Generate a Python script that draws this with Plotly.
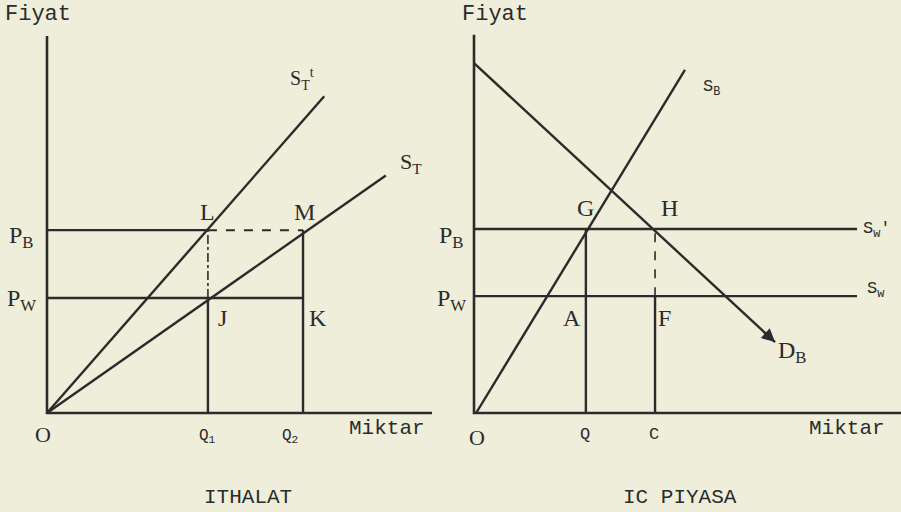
import plotly.graph_objects as go

# ── data (diagram units: 0-100 on each axis) ──────────────────────────────
# left panel: ITHALAT
PB_L, PW_L = 48.5, 30.5
Q1, Q2 = 41.8, 66.5
ST_T_X, ST_T_Y = [0, 72], [0, 84]      # S_T^t
ST_X, ST_Y = [0, 88], [0, 63]          # S_T
AXIS_L = (100, 100)                    # length of x / y axis

# right panel: IC PIYASA
PB_R, PW_R = 48.8, 31.0
Q, C = 26.2, 42.4
SW_END = 89.7
SB_X, SB_Y = [0.5, 49.4], [0, 91.0]    # S_B
DB_X, DB_Y = [0, 70.5], [92.8, 18.8]   # D_B
AXIS_R = (100, 100.3)

INK = '#2b2b2b'
BG = '#efeedb'
MONO = 'Liberation Mono'
HAND = 'Liberation Serif'

fig = go.Figure()


def seg(xs, ys, ax='', dash='solid', w=2.4):
    fig.add_trace(go.Scatter(x=xs, y=ys, mode='lines', xaxis='x' + ax, yaxis='y' + ax,
                             line=dict(color=INK, width=w, dash=dash),
                             hoverinfo='skip', showlegend=False))


# left panel
seg([0, 0, AXIS_L[0]], [AXIS_L[1], 0, 0], w=2.6)
seg(ST_T_X, ST_T_Y)
seg(ST_X, ST_Y)
seg([0, Q1], [PB_L, PB_L])
seg([Q1, Q2], [PB_L, PB_L], dash='dash', w=2)
seg([0, Q2], [PW_L, PW_L])
seg([Q1, Q1], [0, PW_L])
seg([Q1, Q1], [PW_L, PB_L], dash='dashdot', w=1.6)
seg([Q2, Q2], [0, PB_L])

# right panel
seg([0, 0, AXIS_R[0]], [AXIS_R[1], 0, 0], '2', w=2.6)
seg(SB_X, SB_Y, '2')
seg(DB_X, DB_Y, '2')
seg([0, SW_END], [PB_R, PB_R], '2')
seg([0, SW_END], [PW_R, PW_R], '2')
seg([Q, Q], [0, PB_R], '2')
seg([C, C], [0, PW_R], '2')
seg([C, C], [PW_R, PB_R], '2', dash='dash', w=1.6)

# arrow head on D_B
fig.add_annotation(x=DB_X[1], y=DB_Y[1], ax=DB_X[1] - 3, ay=DB_Y[1] + 3.1,
                   xref='x2', yref='y2', axref='x2', ayref='y2', text='',
                   showarrow=True, arrowhead=2, arrowsize=1.2, arrowwidth=2.2,
                   arrowcolor=INK)


def lab(x, y, text, ax='', size=24, font=HAND):
    fig.add_annotation(x=x, y=y, xref='x' + ax, yref='y' + ax, text=text,
                       showarrow=False, font=dict(family=font, size=size, color=INK))


# left labels
lab(66.2, 88.5, 'S<sub>T</sub><sup>t</sup>', size=20)
lab(94.5, 66.3, 'S<sub>T</sub>', size=22)
lab(41.6, 53.3, 'L')
lab(67.0, 53.3, 'M')
lab(-6.5, 46.7, 'P<sub>B</sub>')
lab(-6.5, 30.0, 'P<sub>W</sub>')
lab(45.5, 25.2, 'J')
lab(70.4, 25.2, 'K')
lab(-1.0, -5.6, 'O', size=22)
lab(41.8, -6.1, 'Q<sub>1</sub>', size=16, font=MONO)
lab(63.1, -6.1, 'Q<sub>2</sub>', size=16, font=MONO)
lab(88.3, -4.0, 'Miktar', size=21, font=MONO)
lab(52.2, -22.5, 'ITHALAT', size=21, font=MONO)
lab(-2.3, 105.8, 'Fiyat', size=22, font=MONO)

# right labels
lab(55.7, 86.2, 'S<sub>B</sub>', '2', size=17, font=MONO)
lab(26.0, 54.4, 'G', '2')
lab(45.7, 54.4, 'H', '2')
lab(94.4, 48.5, "S<sub>w</sub>'", '2', size=17, font=MONO)
lab(-5.2, 46.7, 'P<sub>B</sub>', '2')
lab(-5.2, 30.0, 'P<sub>W</sub>', '2')
lab(94.1, 32.6, 'S<sub>w</sub>', '2', size=17, font=MONO)
lab(23.0, 25.2, 'A', '2')
lab(44.5, 25.2, 'F', '2')
lab(74.7, 16.2, 'D<sub>B</sub>', '2')
lab(0.7, -6.4, 'O', '2', size=22)
lab(26.0, -5.8, 'Q', '2', size=17, font=MONO)
lab(42.2, -5.8, 'C', '2', size=17, font=MONO)
lab(87.4, -4.0, 'Miktar', '2', size=21, font=MONO)
lab(48.2, -22.5, 'IC PIYASA', '2', size=21, font=MONO)
lab(5.0, 105.8, 'Fiyat', '2', size=22, font=MONO)

# axes span the whole page so labels outside the diagram stay visible
hidden = dict(visible=False, showgrid=False, zeroline=False)
PXX_L, PXX_R, PXY = 3.85, 4.27, 3.77   # pixels per unit
fig.update_layout(
    width=901, height=512, margin=dict(l=0, r=0, t=0, b=0),
    paper_bgcolor=BG, plot_bgcolor=BG,
    xaxis=dict(hidden, domain=[0, 450 / 901], anchor='y',
               range=[-47 / PXX_L, (450 - 47) / PXX_L]),
    yaxis=dict(hidden, domain=[0, 1], anchor='x',
               range=[-(512 - 413) / PXY, 413 / PXY]),
    xaxis2=dict(hidden, domain=[450 / 901, 1], anchor='y2',
                range=[-24 / PXX_R, (901 - 474) / PXX_R]),
    yaxis2=dict(hidden, domain=[0, 1], anchor='x2',
                range=[-(512 - 413) / PXY, 413 / PXY]),
)

fig.write_html('out.html', config={'displayModeBar': False},
               post_script="document.body.style.margin='0';")
